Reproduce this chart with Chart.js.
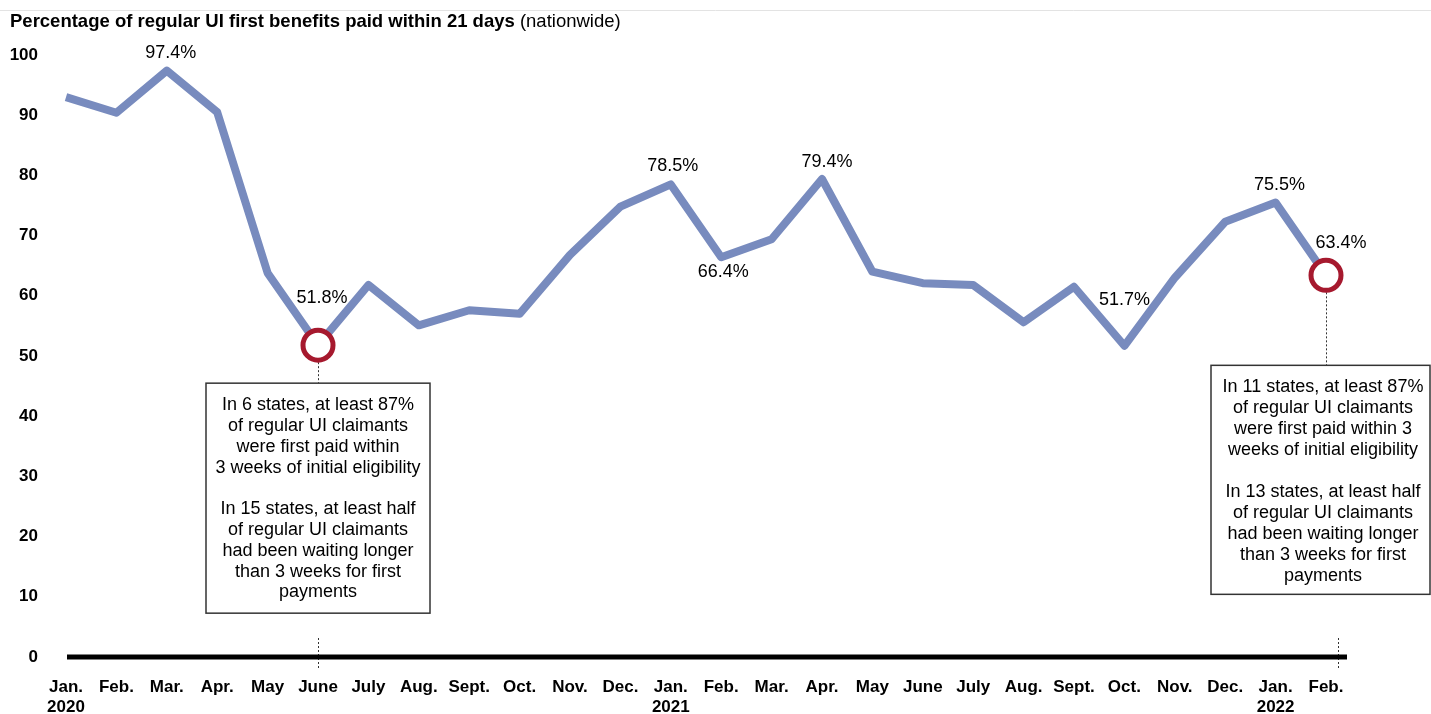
<!DOCTYPE html>
<html>
<head>
<meta charset="utf-8">
<script src="https://cdn.jsdelivr.net/npm/chart.js@4"></script>
<style>
  html, body { margin: 0; padding: 0; background: #fff; }
  #wrap { width: 1431px; height: 714px; position: relative; }
</style>
</head>
<body>
<div id="wrap"><canvas id="uiChart" width="1431" height="714"></canvas></div>
<script>
// months on the x axis, with the year shown under each January
const months = ["Jan.", "Feb.", "Mar.", "Apr.", "May", "June", "July", "Aug.", "Sept.", "Oct.", "Nov.", "Dec.",
  "Jan.", "Feb.", "Mar.", "Apr.", "May", "June", "July", "Aug.", "Sept.", "Oct.", "Nov.", "Dec.",
  "Jan.", "Feb."];
const years = ["2020", "", "", "", "", "", "", "", "", "", "", "",
  "2021", "", "", "", "", "", "", "", "", "", "", "",
  "2022", ""];

// percentage of regular UI first benefits paid within 21 days
const paidWithin21 = [93.0, 90.4, 97.4, 90.5, 63.8, 51.8, 61.8, 55.1, 57.6, 57.0, 66.8, 74.8,
  78.5, 66.4, 69.4, 79.4, 64.0, 62.1, 61.8, 55.6, 61.5, 51.7, 63.0, 72.3,
  75.5, 63.4];

const yTicks = [0, 10, 20, 30, 40, 50, 60, 70, 80, 90, 100];

const labelled = [2, 5, 12, 13, 15, 21, 24, 25];
const circled = [5, 25];

const noteJune2020 = ["In 6 states, at least 87%", "of regular UI claimants", "were first paid within",
  "3 weeks of initial eligibility", "", "In 15 states, at least half", "of regular UI claimants",
  "had been waiting longer", "than 3 weeks for first", "payments"];
const noteFeb2022 = ["In 11 states, at least 87%", "of regular UI claimants", "were first paid within 3",
  "weeks of initial eligibility", "", "In 13 states, at least half", "of regular UI claimants",
  "had been waiting longer", "than 3 weeks for first", "payments"];

const FONT = "'Liberation Sans', Arial, Helvetica, sans-serif";
const LINE = "#788bbe";
const RED = "#a6192e";

// where each value label sits relative to its point
const labelOffset = {
  2: [4, -18], 5: [4, -47], 12: [2, -18], 13: [2, 15],
  15: [5, -17], 21: [0, -46], 24: [4, -17], 25: [15, -32]
};

function dotted(ctx, x, y1, y2) {
  ctx.save();
  ctx.strokeStyle = "#333";
  ctx.lineWidth = 1;
  ctx.setLineDash([2, 2]);
  ctx.beginPath();
  ctx.moveTo(x + 0.5, y1);
  ctx.lineTo(x + 0.5, y2);
  ctx.stroke();
  ctx.restore();
}

function noteBox(ctx, lines, left, top, width, height, cx, firstY, lh) {
  ctx.save();
  ctx.fillStyle = "#fff";
  ctx.fillRect(left, top, width, height);
  ctx.strokeStyle = "#333";
  ctx.lineWidth = 1.5;
  ctx.strokeRect(left, top, width, height);
  ctx.fillStyle = "#000";
  ctx.font = "18px " + FONT;
  ctx.textAlign = "center";
  ctx.textBaseline = "middle";
  lines.forEach((t, i) => { if (t) ctx.fillText(t, cx, firstY + i * lh); });
  ctx.restore();
}

const extras = {
  id: "extras",
  beforeDraw(chart) {
    const ctx = chart.ctx;
    ctx.save();
    ctx.strokeStyle = "#e3e3e3";
    ctx.lineWidth = 1;
    ctx.beginPath();
    ctx.moveTo(0, 10.5);
    ctx.lineTo(chart.width, 10.5);
    ctx.stroke();
    ctx.textBaseline = "middle";
    ctx.fillStyle = "#000";
    const bold = "Percentage of regular UI first benefits paid within 21 days";
    ctx.font = "bold 18.5px " + FONT;
    ctx.fillText(bold, 10, 22);
    const w = ctx.measureText(bold).width;
    ctx.font = "18.5px " + FONT;
    ctx.fillText(" (nationwide)", 10 + w, 22);
    ctx.restore();
  },
  beforeDatasetsDraw(chart) {
    const ctx = chart.ctx;
    const area = chart.chartArea;
    const pts = chart.getDatasetMeta(0).data;
    const p1 = pts[5], p2 = pts[25];
    // dotted leaders
    dotted(ctx, p1.x, p1.y + 17, p1.y + 38);
    dotted(ctx, p2.x, p2.y + 17, p2.y + 90);
    dotted(ctx, p1.x, area.bottom - 19, area.bottom + 12);
    dotted(ctx, p2.x + 12, area.bottom - 19, area.bottom + 12);
    // zero baseline
    ctx.save();
    ctx.strokeStyle = "#000";
    ctx.lineWidth = 5;
    ctx.beginPath();
    ctx.moveTo(area.left + 1, area.bottom);
    ctx.lineTo(area.right + 21, area.bottom);
    ctx.stroke();
    ctx.restore();
    noteBox(ctx, noteJune2020, p1.x - 112, p1.y + 38, 224, 230, p1.x, p1.y + 60, 20.8);
    noteBox(ctx, noteFeb2022, p2.x - 115, p2.y + 90, 219, 229, p2.x - 3, p2.y + 112, 21);
  },
  afterDatasetsDraw(chart) {
    const ctx = chart.ctx;
    const pts = chart.getDatasetMeta(0).data;
    ctx.save();
    ctx.font = "18px " + FONT;
    ctx.fillStyle = "#000";
    ctx.textAlign = "center";
    ctx.textBaseline = "middle";
    labelled.forEach(i => {
      const [dx, dy] = labelOffset[i];
      ctx.fillText(paidWithin21[i].toFixed(1) + "%", pts[i].x + dx, pts[i].y + dy);
    });
    ctx.restore();
  }
};

document.addEventListener("DOMContentLoaded", () => {
  const canvas = document.getElementById("uiChart");
  const labels = months.map((m, i) => years[i] ? [m, years[i]] : m);

  new Chart(canvas.getContext("2d"), {
    type: "line",
    data: {
      labels,
      datasets: [{
        data: paidWithin21,
        borderColor: LINE,
        borderWidth: 8,
        tension: 0,
        clip: false,
        borderJoinStyle: "round",
        pointRadius: paidWithin21.map((v, i) => circled.includes(i) ? 15 : 0),
        pointBorderWidth: 5,
        pointBorderColor: RED,
        pointBackgroundColor: "#fff",
        pointHoverRadius: 0
      }]
    },
    options: {
      responsive: false,
      animation: false,
      events: [],
      layout: { padding: { top: 55, right: 105, left: 0, bottom: 0 } },
      plugins: {
        legend: { display: false },
        tooltip: { enabled: false },
        title: { display: false }
      },
      scales: {
        x: {
          type: "category",
          offset: false,
          grid: { display: false, drawTicks: false },
          border: { display: false },
          ticks: {
            autoSkip: false,
            maxRotation: 0,
            minRotation: 0,
            padding: 20,
            color: "#000",
            font: { family: FONT, size: 17, weight: "bold" }
          },
          afterFit(scale) { scale.height = 57; }
        },
        y: {
          min: 0,
          max: 100,
          afterBuildTicks(scale) { scale.ticks = yTicks.map(v => ({ value: v })); },
          grid: { display: false, drawTicks: false },
          border: { display: false },
          ticks: {
            padding: 28,
            color: "#000",
            font: { family: FONT, size: 17, weight: "bold" }
          },
          afterFit(scale) { scale.width = 66; }
        }
      }
    },
    plugins: [extras]
  });
});
</script>
</body>
</html>
